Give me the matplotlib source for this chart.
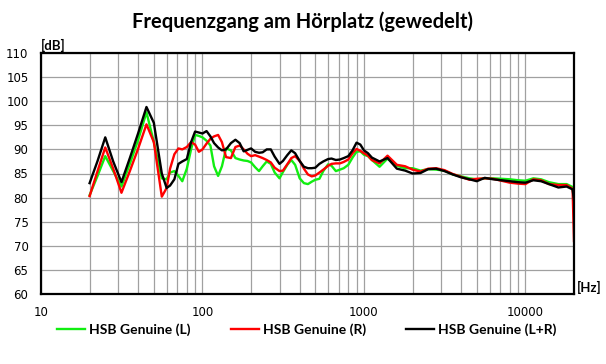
#import the neccessary libraries
import numpy as np
import matplotlib.pyplot as plt
from matplotlib.ticker import FixedLocator, NullFormatter

#frequency points (Hz), shared by all three curves
freq = [20, 22.4, 25, 28, 31.5, 35.5, 40, 45, 50, 56, 60, 63, 67, 71, 75, 80, 85, 90, 95,
        100, 106, 112, 118, 125, 132, 140, 150, 160, 170, 180, 190, 200, 212, 224, 236,
        250, 265, 280, 300, 315, 335, 355, 375, 400, 425, 450, 475, 500, 530, 560, 600,
        630, 670, 710, 750, 800, 850, 900, 950, 1000, 1060, 1120, 1250, 1400, 1600, 1800,
        2000, 2240, 2500, 2800, 3150, 3550, 4000, 4500, 5000, 5600, 6300, 7100, 8000, 9000,
        10000, 11200, 12500, 14000, 16000, 18000, 19600, 20000]

#left channel
level_L = [80.5, 84.5, 88.6, 85.5, 82.3, 87.0, 92.0, 97.7, 91.5, 84.0, 83.8, 85.2, 85.5, 84.5, 83.4, 86.0, 90.0, 93.0, 92.8,
           92.5, 91.8, 90.8, 86.5, 84.5, 86.5, 90.2, 89.8, 88.2, 87.9, 87.7, 87.6, 87.3, 86.3, 85.5, 86.5,
           87.5, 87.0, 85.2, 84.0, 85.3, 86.8, 87.8, 86.8, 84.0, 83.0, 82.8, 83.3, 83.7, 83.9, 85.5, 86.9,
           86.6, 85.5, 85.8, 86.1, 86.8, 88.3, 89.5, 89.6, 88.9, 88.6, 87.8, 86.4, 88.1, 86.6, 86.1,
           86.1, 85.6, 85.9, 85.8, 85.6, 84.8, 84.4, 84.0, 83.8, 84.0, 84.0, 83.9, 83.8, 83.6,
           83.5, 84.0, 83.8, 83.2, 82.8, 82.8, 82.2, 79.5]

#right channel
level_R = [80.3, 85.5, 90.4, 86.0, 81.0, 85.5, 90.2, 95.2, 91.5, 80.2, 82.0, 86.0, 89.0, 90.2, 90.0, 90.5, 91.5, 91.0, 89.5,
           90.0, 91.2, 92.2, 92.7, 93.0, 91.5, 88.4, 88.2, 90.5, 90.8, 90.0, 89.1, 88.6, 88.8, 88.5, 88.2,
           87.8, 87.3, 86.2, 85.5, 85.6, 86.9, 88.2, 88.6, 87.6, 86.0, 84.8, 84.4, 84.6, 85.2, 85.8, 86.6,
           87.0, 87.1, 87.1, 87.4, 87.9, 89.2, 90.1, 89.7, 89.2, 88.7, 87.8, 87.1, 88.7, 86.8, 86.5,
           85.8, 85.4, 86.0, 86.1, 85.7, 84.9, 84.3, 83.7, 83.9, 84.0, 83.9, 83.5, 83.1, 82.9,
           82.8, 83.8, 83.6, 82.8, 82.6, 82.6, 81.8, 71.0]

#both channels
level_LR = [83.0, 87.6, 92.5, 87.5, 83.2, 88.2, 93.4, 98.8, 95.5, 85.0, 82.0, 82.5, 83.8, 87.0, 87.5, 88.0, 91.5, 93.7, 93.5,
            93.3, 93.8, 92.7, 91.3, 90.4, 89.8, 90.0, 91.3, 92.0, 91.3, 89.6, 89.9, 90.2, 89.5, 89.3, 89.4,
            90.0, 90.0, 88.5, 87.0, 87.6, 88.8, 89.8, 89.2, 87.6, 86.4, 86.1, 86.1, 86.2, 87.0, 87.5, 88.0,
            88.1, 87.8, 87.9, 88.2, 88.6, 89.8, 91.4, 91.0, 89.8, 89.2, 88.3, 87.5, 88.2, 86.0, 85.6,
            85.0, 85.1, 85.9, 86.0, 85.5, 84.8, 84.2, 83.8, 83.4, 84.1, 83.8, 83.6, 83.4, 83.2,
            83.1, 83.6, 83.4, 82.8, 82.1, 82.3, 81.7, 79.5]

x_ticks = [10, 100, 1000, 10000]
x_labels = ["10", "100", "1000", "10000"]
y_ticks = list(range(60, 111, 5))

#set up the dimensions and resolution of the plot
fig = plt.figure(figsize=(6.06, 3.64), dpi=100)
ax = fig.add_axes([41/606, 1-294/364, 533/606, 241/364])

ax.plot(freq, level_L, color="#11ee11", lw=1.7, label="HSB Genuine (L)")
ax.plot(freq, level_R, color="#ff0000", lw=1.7, label="HSB Genuine (R)")
ax.plot(freq, level_LR, color="black", lw=1.7, label="HSB Genuine (L+R)")

ax.set_xscale("log")
ax.set_xlim(10, 20000)
ax.set_ylim(60, 110)

#grid on every minor decade step and every 5 dB
minor = [m * d for d in [10, 100, 1000, 10000] for m in range(2, 10) if m * d < 20000]
ax.xaxis.set_major_locator(FixedLocator(x_ticks))
ax.xaxis.set_minor_locator(FixedLocator(minor))
ax.xaxis.set_minor_formatter(NullFormatter())
ax.set_xticklabels(x_labels)
ax.set_yticks(y_ticks)
ax.grid(True, which="both", color="#a0a0a0", lw=0.9)
ax.set_axisbelow(True)
ax.tick_params(which="both", length=0, labelsize=8.5)
ax.tick_params(axis="y", pad=9)
ax.tick_params(axis="x", pad=9)
for s in ax.spines.values():
    s.set_linewidth(1.6)
    s.set_color("black")

fig.text(303/606, 1-22/364, "Frequenzgang am Hörplatz (gewedelt)", ha="center", va="center",
         fontsize=14.5, fontweight="bold", family="Lato")
fig.text(41/606, 1-45/364, "[dB]", ha="left", va="center", fontsize=9.5, fontweight="bold", family="Lato")
fig.text(577/606, 1-287/364, "[Hz]", ha="left", va="center", fontsize=9.5, fontweight="bold", family="Lato")

fig.legend(loc="center", bbox_to_anchor=(307/606, 1-330/364), ncol=3, frameon=False,
           prop={"family": "Lato", "weight": "bold", "size": 10},
           handlelength=2.0, handletextpad=0.3, columnspacing=2.9)

plt.savefig("out.png", dpi=100)
